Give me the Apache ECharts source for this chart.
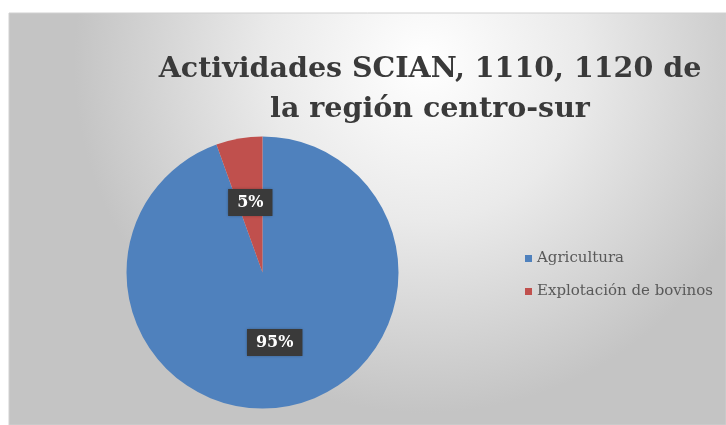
<!DOCTYPE html>
<html>
<head>
<meta charset="utf-8">
<script src="https://cdn.jsdelivr.net/npm/echarts@6/dist/echarts.min.js"></script>
<style>
  html, body { margin: 0; padding: 0; background: #ffffff; }
  #chart { width: 726px; height: 425px; }
</style>
</head>
<body>
<div id="chart"></div>
<script>
// datos del gráfico
const categories = ['Agricultura', 'Explotación de bovinos']
const values = [94.5, 5.5]
const colors = ['#4f81bd', '#c0504d']
const titleText = 'Actividades SCIAN, 1110, 1120 de\nla región centro-sur'

const chart = echarts.init(document.getElementById('chart'))

chart.setOption({
  animation: false,
  color: colors,
  /* fondo con degradado radial */
  graphic: [
    {
      type: 'rect',
      z: -10,
      shape: { x: 9, y: 13, width: 717, height: 412 },
      style: {
        fill: new echarts.graphic.RadialGradient(0.58, 0.12, 0.85, [
          { offset: 0, color: '#ffffff' },
          { offset: 0.45, color: '#eaeaea' },
          { offset: 1, color: '#c4c4c4' }
        ]),
        stroke: '#d0d0d0',
        lineWidth: 1
      }
    }
  ],
  title: {
    text: titleText,
    left: 425,
    top: 45,
    textAlign: 'center',
    textStyle: {
      fontFamily: 'DejaVu Serif',
      fontWeight: 'bold',
      fontSize: 28.5,
      lineHeight: 40,
      color: '#3a3a3a'
    }
  },
  legend: {
    orient: 'vertical',
    left: 520,
    top: 246,
    itemWidth: 7,
    itemHeight: 7,
    itemGap: 18,
    icon: 'rect',
    data: categories,
    textStyle: {
      fontFamily: 'DejaVu Serif',
      fontSize: 15,
      color: '#595959'
    }
  },
  series: [
    {
      type: 'pie',
      center: [262.5, 272.5],
      radius: 136,
      startAngle: 90,
      clockwise: true,
      percentPrecision: 0,
      label: {
        show: true,
        position: 'inside',
        formatter: '{d}%',
        fontFamily: 'DejaVu Serif',
        fontWeight: 'bold',
        fontSize: 16,
        color: '#ffffff',
        backgroundColor: '#3a3a3a',
        padding: [6, 9, 5, 9],
        shadowColor: 'rgba(0,0,0,0.4)',
        shadowBlur: 3
      },
      labelLine: { show: false },
      emphasis: { disabled: true },
      data: categories.map((name, i) => ({ name, value: values[i] }))
    }
  ]
})
</script>
</body>
</html>
